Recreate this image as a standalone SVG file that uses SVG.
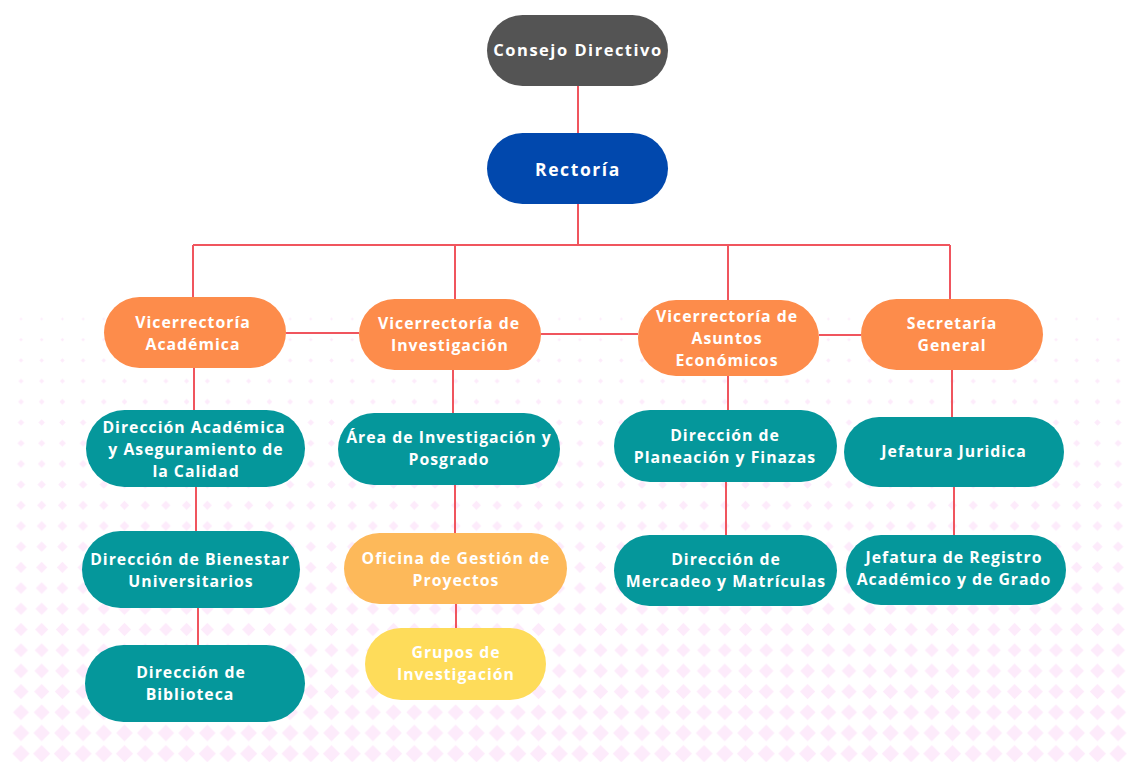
<svg xmlns="http://www.w3.org/2000/svg" width="1133" height="762" viewBox="0 0 1133 762">
<style>
.n text{font-family:"Open Sans","Liberation Sans",sans-serif;font-weight:700;font-size:15.8px;fill:#ffffff;text-anchor:middle;letter-spacing:1px}
.dk{fill:#545454}.bl{fill:#0148ad}.or{fill:#fd8c4b}.tl{fill:#05979b}.am{fill:#fdb95a}.ye{fill:#fedc5a}
.c{stroke:#f0555e;stroke-width:2;fill:none}
pattern path{fill:#fdebfb}
</style>
<defs>
<pattern id="p0" width="20.7" height="20.7" patternUnits="userSpaceOnUse" x="10.65" y="308.65"><path d="M10.35 8.85l1.5 1.5-1.5 1.5-1.5-1.5z"/></pattern>
<pattern id="p1" width="20.7" height="20.7" patternUnits="userSpaceOnUse" x="10.65" y="329.35"><path d="M10.35 8.51l1.84 1.84-1.84 1.84-1.84-1.84z"/></pattern>
<pattern id="p2" width="20.7" height="20.7" patternUnits="userSpaceOnUse" x="10.65" y="350.05"><path d="M10.35 8.17l2.18 2.18-2.18 2.18-2.18-2.18z"/></pattern>
<pattern id="p3" width="20.7" height="20.7" patternUnits="userSpaceOnUse" x="10.65" y="370.75"><path d="M10.35 7.83l2.52 2.52-2.52 2.52-2.52-2.52z"/></pattern>
<pattern id="p4" width="20.7" height="20.7" patternUnits="userSpaceOnUse" x="10.65" y="391.45"><path d="M10.35 7.49l2.86 2.86-2.86 2.86-2.86-2.86z"/></pattern>
<pattern id="p5" width="20.7" height="20.7" patternUnits="userSpaceOnUse" x="10.65" y="412.15"><path d="M10.35 7.15l3.2 3.2-3.2 3.2-3.2-3.2z"/></pattern>
<pattern id="p6" width="20.7" height="20.7" patternUnits="userSpaceOnUse" x="10.65" y="432.85"><path d="M10.35 6.81l3.54 3.54-3.54 3.54-3.54-3.54z"/></pattern>
<pattern id="p7" width="20.7" height="20.7" patternUnits="userSpaceOnUse" x="10.65" y="453.55"><path d="M10.35 6.47l3.88 3.88-3.88 3.88-3.88-3.88z"/></pattern>
<pattern id="p8" width="20.7" height="20.7" patternUnits="userSpaceOnUse" x="10.65" y="474.25"><path d="M10.35 6.13l4.22 4.22-4.22 4.22-4.22-4.22z"/></pattern>
<pattern id="p9" width="20.7" height="20.7" patternUnits="userSpaceOnUse" x="10.65" y="494.95"><path d="M10.35 5.79l4.56 4.56-4.56 4.56-4.56-4.56z"/></pattern>
<pattern id="p10" width="20.7" height="20.7" patternUnits="userSpaceOnUse" x="10.65" y="515.65"><path d="M10.35 5.45l4.9 4.9-4.9 4.9-4.9-4.9z"/></pattern>
<pattern id="p11" width="20.7" height="20.7" patternUnits="userSpaceOnUse" x="10.65" y="536.35"><path d="M10.35 5.11l5.24 5.24-5.24 5.24-5.24-5.24z"/></pattern>
<pattern id="p12" width="20.7" height="20.7" patternUnits="userSpaceOnUse" x="10.65" y="557.05"><path d="M10.35 4.77l5.58 5.58-5.58 5.58-5.58-5.58z"/></pattern>
<pattern id="p13" width="20.7" height="20.7" patternUnits="userSpaceOnUse" x="10.65" y="577.75"><path d="M10.35 4.43l5.92 5.92-5.92 5.92-5.92-5.92z"/></pattern>
<pattern id="p14" width="20.7" height="20.7" patternUnits="userSpaceOnUse" x="10.65" y="598.45"><path d="M10.35 4.09l6.26 6.26-6.26 6.26-6.26-6.26z"/></pattern>
<pattern id="p15" width="20.7" height="20.7" patternUnits="userSpaceOnUse" x="10.65" y="619.15"><path d="M10.35 3.75l6.6 6.6-6.6 6.6-6.6-6.6z"/></pattern>
<pattern id="p16" width="20.7" height="20.7" patternUnits="userSpaceOnUse" x="10.65" y="639.85"><path d="M10.35 3.41l6.94 6.94-6.94 6.94-6.94-6.94z"/></pattern>
<pattern id="p17" width="20.7" height="20.7" patternUnits="userSpaceOnUse" x="10.65" y="660.55"><path d="M10.35 3.07l7.28 7.28-7.28 7.28-7.28-7.28z"/></pattern>
<pattern id="p18" width="20.7" height="20.7" patternUnits="userSpaceOnUse" x="10.65" y="681.25"><path d="M10.35 2.73l7.62 7.62-7.62 7.62-7.62-7.62z"/></pattern>
<pattern id="p19" width="20.7" height="20.7" patternUnits="userSpaceOnUse" x="10.65" y="701.95"><path d="M10.35 2.39l7.96 7.96-7.96 7.96-7.96-7.96z"/></pattern>
<pattern id="p20" width="20.7" height="20.7" patternUnits="userSpaceOnUse" x="10.65" y="722.65"><path d="M10.35 2.05l8.3 8.3-8.3 8.3-8.3-8.3z"/></pattern>
<pattern id="p21" width="20.7" height="20.7" patternUnits="userSpaceOnUse" x="10.65" y="743.35"><path d="M10.35 1.71l8.64 8.64-8.64 8.64-8.64-8.64z"/></pattern>
</defs>
<rect width="1133" height="762" fill="#ffffff"/>
<g id="background">
<rect x="10.65" y="308.65" width="1118" height="20.7" fill="url(#p0)"/>
<rect x="10.65" y="329.35" width="1118" height="20.7" fill="url(#p1)"/>
<rect x="10.65" y="350.05" width="1118" height="20.7" fill="url(#p2)"/>
<rect x="10.65" y="370.75" width="1118" height="20.7" fill="url(#p3)"/>
<rect x="10.65" y="391.45" width="1118" height="20.7" fill="url(#p4)"/>
<rect x="10.65" y="412.15" width="1118" height="20.7" fill="url(#p5)"/>
<rect x="10.65" y="432.85" width="1118" height="20.7" fill="url(#p6)"/>
<rect x="10.65" y="453.55" width="1118" height="20.7" fill="url(#p7)"/>
<rect x="10.65" y="474.25" width="1118" height="20.7" fill="url(#p8)"/>
<rect x="10.65" y="494.95" width="1118" height="20.7" fill="url(#p9)"/>
<rect x="10.65" y="515.65" width="1118" height="20.7" fill="url(#p10)"/>
<rect x="10.65" y="536.35" width="1118" height="20.7" fill="url(#p11)"/>
<rect x="10.65" y="557.05" width="1118" height="20.7" fill="url(#p12)"/>
<rect x="10.65" y="577.75" width="1118" height="20.7" fill="url(#p13)"/>
<rect x="10.65" y="598.45" width="1118" height="20.7" fill="url(#p14)"/>
<rect x="10.65" y="619.15" width="1118" height="20.7" fill="url(#p15)"/>
<rect x="10.65" y="639.85" width="1118" height="20.7" fill="url(#p16)"/>
<rect x="10.65" y="660.55" width="1118" height="20.7" fill="url(#p17)"/>
<rect x="10.65" y="681.25" width="1118" height="20.7" fill="url(#p18)"/>
<rect x="10.65" y="701.95" width="1118" height="20.7" fill="url(#p19)"/>
<rect x="10.65" y="722.65" width="1118" height="20.7" fill="url(#p20)"/>
<rect x="10.65" y="743.35" width="1118" height="18.65" fill="url(#p21)"/>
</g>
<g id="connectors" class="c">
<path d="M578 86V133M578 204V245M193 245H950M193 245V297M455 245V299M728 245V300M950 245V299"/>
<path d="M286 333H359M541 334H638M819 335H861"/>
<path d="M194 368V410M196 487V531M198 608V645"/>
<path d="M453 370V413M455 485V533M456 604V628"/>
<path d="M728 376V410M726 482V535"/>
<path d="M952 370V417M954 487V535"/>
</g>
<g id="consejo" class="n"><rect class="dk" x="487" y="15" width="181" height="71" rx="35.5"/><text x="578" y="56" style="font-size:16.5px;letter-spacing:1.5px">Consejo Directivo</text></g>
<g id="rectoria" class="n"><rect class="bl" x="487" y="133" width="181" height="71" rx="35.5"/><text x="578" y="176" style="font-size:17.5px;letter-spacing:1.6px">Rectoría</text></g>
<g id="vic-academica" class="n"><rect class="or" x="104" y="297" width="182" height="71" rx="35.5"/><text x="193" y="328">Vicerrectoría</text><text x="193" y="350">Académica</text></g>
<g id="vic-investigacion" class="n"><rect class="or" x="359" y="299" width="182" height="71" rx="35.5"/><text x="449" y="329">Vicerrectoría de</text><text x="450" y="351">Investigación</text></g>
<g id="vic-asuntos" class="n"><rect class="or" x="638" y="300" width="181" height="76" rx="38"/><text x="727" y="322">Vicerrectoría de</text><text x="727" y="344">Asuntos</text><text x="727" y="366">Económicos</text></g>
<g id="secretaria" class="n"><rect class="or" x="861" y="299" width="182" height="71" rx="35.5"/><text x="952" y="329">Secretaría</text><text x="952" y="351">General</text></g>
<g id="dir-academica" class="n"><rect class="tl" x="86" y="410" width="219" height="77" rx="38.5"/><text x="194" y="433">Dirección Académica</text><text x="196" y="455">y Aseguramiento de</text><text x="196" y="477">la Calidad</text></g>
<g id="dir-bienestar" class="n"><rect class="tl" x="82" y="531" width="218" height="77" rx="38.5"/><text x="190" y="565">Dirección de Bienestar</text><text x="191" y="587">Universitarios</text></g>
<g id="dir-biblioteca" class="n"><rect class="tl" x="85" y="645" width="220" height="77" rx="38.5"/><text x="191" y="678">Dirección de</text><text x="190" y="700">Biblioteca</text></g>
<g id="area-investigacion" class="n"><rect class="tl" x="338" y="413" width="222" height="72" rx="36"/><text x="449" y="443">Área de Investigación y</text><text x="449" y="465">Posgrado</text></g>
<g id="oficina" class="n"><rect class="am" x="344" y="533" width="223" height="71" rx="35.5"/><text x="456" y="564">Oficina de Gestión de</text><text x="456" y="586">Proyectos</text></g>
<g id="grupos" class="n"><rect class="ye" x="365" y="628" width="181" height="72" rx="36"/><text x="456" y="658">Grupos de</text><text x="456" y="680">Investigación</text></g>
<g id="dir-planeacion" class="n"><rect class="tl" x="614" y="410" width="223" height="72" rx="36"/><text x="725" y="441">Dirección de</text><text x="725" y="463">Planeación y Finazas</text></g>
<g id="dir-mercadeo" class="n"><rect class="tl" x="614" y="535" width="223" height="71" rx="35.5"/><text x="726" y="565">Dirección de</text><text x="726" y="587">Mercadeo y Matrículas</text></g>
<g id="jefatura-juridica" class="n"><rect class="tl" x="844" y="417" width="220" height="70" rx="35"/><text x="954" y="457">Jefatura Juridica</text></g>
<g id="jefatura-registro" class="n"><rect class="tl" x="846" y="535" width="220" height="70" rx="35"/><text x="954" y="563">Jefatura de Registro</text><text x="954" y="585">Académico y de Grado</text></g>
</svg>
